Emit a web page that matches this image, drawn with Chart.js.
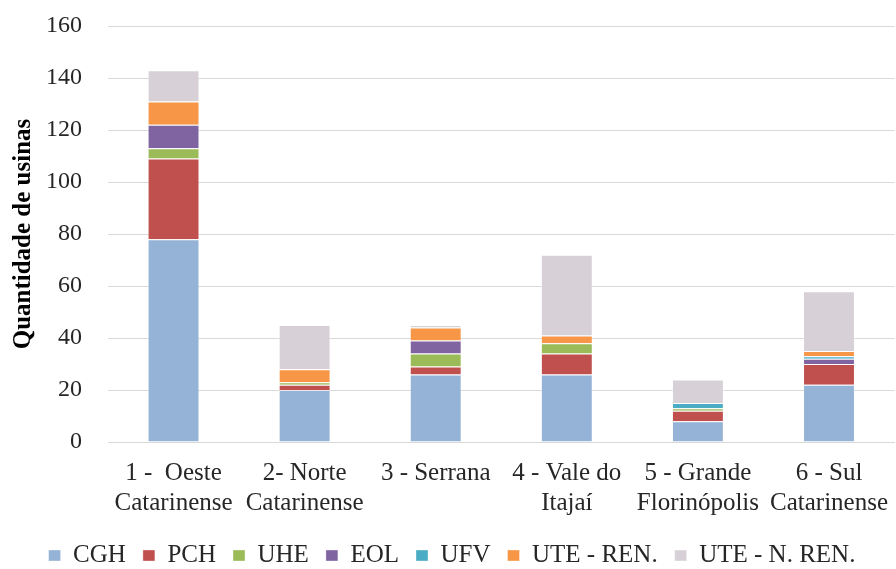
<!DOCTYPE html>
<html>
<head>
<meta charset="utf-8">
<script src="https://cdn.jsdelivr.net/npm/chart.js@4/dist/chart.umd.min.js"></script>
<style>
  html, body { margin: 0; padding: 0; background: #fff; }
  #wrap { width: 896px; height: 569px; }
</style>
</head>
<body>
<div id="wrap"><canvas id="myChart0"></canvas></div>
<script>
var regioes = [
    ["1 -  Oeste", "Catarinense"],
    ["2- Norte", "Catarinense"],
    "3 - Serrana",
    ["4 - Vale do", "Itajaí"],
    ["5 - Grande", "Florinópolis"],
    ["6 - Sul", "Catarinense"]
];
var cgh     = [78, 20, 26, 26, 8, 22];
var pch     = [31, 2, 3, 8, 4, 8];
var uhe     = [4, 1, 5, 4, 1, 0];
var eol     = [9, 0, 5, 0, 0, 2];
var ufv     = [0, 0, 0, 0, 2, 1];
var uteRen  = [9, 5, 5, 3, 0, 2];
var uteNRen = [12, 17, 1, 31, 9, 23];
var yTicks  = [0, 20, 40, 60, 80, 100, 120, 140, 160];

function serie(label, data, cor) {
    return {
        label: label,
        data: data,
        backgroundColor: cor,
        borderColor: "rgba(255,255,255,0.35)",
        borderWidth: 1,
        barPercentage: 0.8,
        categoryPercentage: 0.495
    };
}

var chartdata = {
    labels: regioes,
    datasets: [
        serie("CGH", cgh, "#95b3d7"),
        serie("PCH", pch, "#c0504d"),
        serie("UHE", uhe, "#9bbb59"),
        serie("EOL", eol, "#8064a2"),
        serie("UFV", ufv, "#4bacc6"),
        serie("UTE - REN.", uteRen, "#f79646"),
        serie("UTE - N. REN.", uteNRen, "#d7d1d7")
    ]
};

var fonte = "'Liberation Serif', 'Times New Roman', serif";

var ctx = document.getElementById("myChart0");
var grafico = new Chart(ctx, {
    type: "bar",
    data: chartdata,
    options: {
        responsive: true,
        maintainAspectRatio: false,
        animation: false,
        layout: { padding: { left: 0, right: -8, top: 26, bottom: -9 } },
        plugins: {
            tooltip: { enabled: false },
            legend: {
                position: "bottom",
                labels: {
                    boxWidth: 12,
                    boxHeight: 11,
                    padding: 17,
                    color: "#262626",
                    font: { family: fonte, size: 25 }
                }
            }
        },
        scales: {
            x: {
                stacked: true,
                grid: { display: false },
                border: { color: "#d9d9d9", width: 1 },
                ticks: {
                    color: "#262626",
                    maxRotation: 0,
                    autoSkip: false,
                    padding: 8,
                    font: { family: fonte, size: 25, lineHeight: 1.2 }
                }
            },
            y: {
                stacked: true,
                min: 0,
                max: 160,
                afterBuildTicks: function(axis) {
                    axis.ticks = yTicks.map(function(v) { return { value: v }; });
                },
                afterFit: function(axis) {
                    axis.width = 108;
                    axis.paddingTop = 0;
                    axis.paddingBottom = 0;
                },
                grid: { color: "#d9d9d9", lineWidth: 1, drawTicks: false },
                border: { display: false },
                ticks: {
                    color: "#262626",
                    padding: 26,
                    font: { family: fonte, size: 24 }
                },
                title: {
                    display: true,
                    text: "Quantidade de usinas",
                    color: "#000",
                    padding: { top: 9, bottom: 0 },
                    font: { family: fonte, size: 25, weight: "bold" }
                }
            }
        }
    }
});
</script>
</body>
</html>
